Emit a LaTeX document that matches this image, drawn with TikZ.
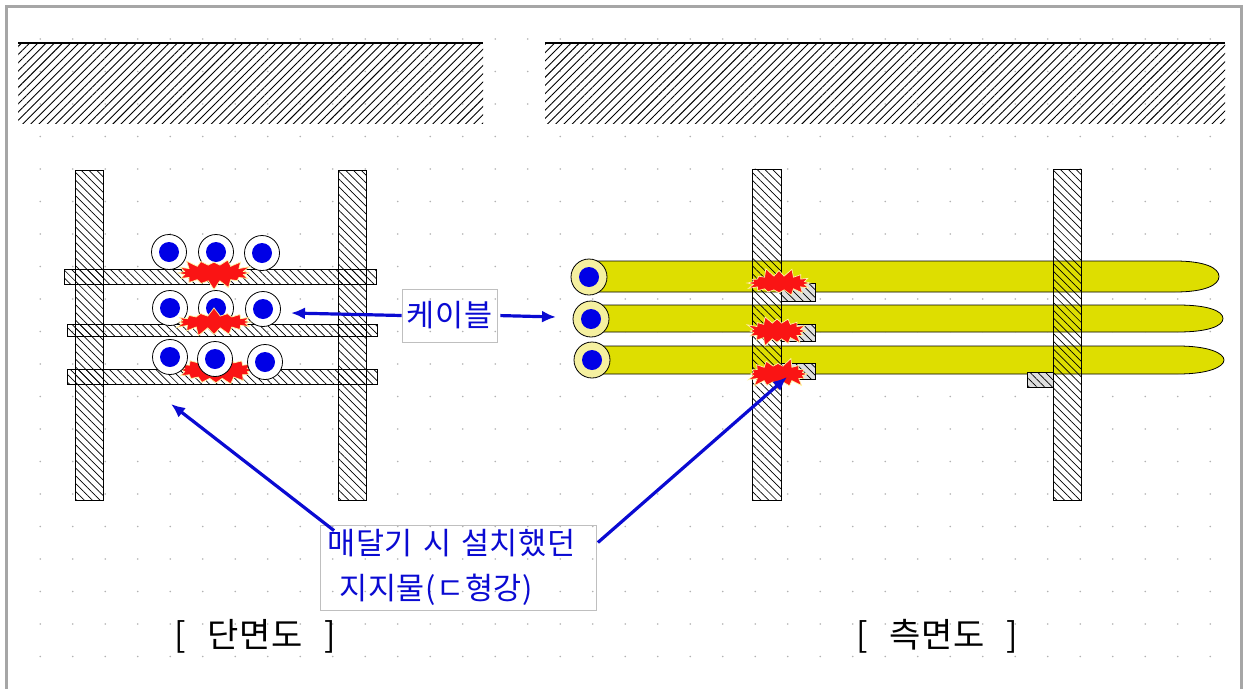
\documentclass[tikz,border=0pt]{standalone}
\usepackage{fontspec}
\newfontfamily\kr[LetterSpace=2,WordSpace=2.6]{Noto Sans CJK KR}
\usetikzlibrary{positioning,shapes,arrows.meta,patterns.meta}

\definecolor{cableblue}{RGB}{0,0,230}
\definecolor{callblue}{RGB}{10,10,210}
\definecolor{sheath}{RGB}{222,222,0}
\definecolor{sheathend}{RGB}{245,240,160}
\definecolor{burstred}{RGB}{250,20,20}

\tikzset{
  ground/.style={pattern={Lines[angle=45,distance=5.8pt,line width=0.9pt]}},
  barhatch/.style={pattern={Lines[angle=-45,distance=5.5pt,line width=0.7pt]}},
  vbar/.style={rectangle, draw, line width=0.8pt, inner sep=0pt, minimum width=28pt, minimum height=330pt, preaction={fill=white}, barhatch},
  barbase/.style={rectangle, fill=white, inner sep=0pt, minimum width=28pt, minimum height=330pt},
  hbar/.style={rectangle, draw, line width=0.8pt, inner sep=0pt, barhatch},
  cable/.style={circle, draw, line width=0.8pt, fill=white, minimum size=35pt, inner sep=0pt,
    path picture={\fill[cableblue] (path picture bounding box.center) circle (10pt);}},
  cableend/.style={cable, fill=sheathend, minimum size=36pt},
  spark/.style={starburst, fill=burstred, draw=yellow!35, line width=0.7pt, inner sep=0pt,
    starburst points=16, starburst point height=9pt},
  sheathline/.style={draw, line width=0.8pt, fill=sheath},
  bracket/.style={rectangle, draw, line width=0.8pt, inner sep=0pt, preaction={fill=gray!25}, barhatch},
  labelbox/.style={draw=gray!50, line width=0.8pt, text=callblue, inner sep=0pt, font=\kr\fontsize{30.5}{45}\selectfont},
  title/.style={font=\kr\fontsize{34}{40}\selectfont},
  callout/.style={->, draw=callblue, line width=3.2pt}
}

\begin{document}
\begin{tikzpicture}[x=1pt, y=-1pt, >={Latex[length=14pt,width=12pt]}]
\useasboundingbox (0,0) rectangle (1246,688);
\fill[white] (0,0) rectangle (1246,688);
\draw[gray!70, line width=3pt] (6.5,700) -- (6.5,6.5) -- (1241.5,6.5) -- (1241.5,700);

\foreach \i in {0,...,36}{
  \foreach \j in {0,...,19}{
    \fill[gray!60] (40.2+32.5*\i, 39+32.5*\j) circle (0.9pt);
  }
}

% ground above
\path[ground] (18,44) rectangle (483,123);
\draw[line width=1.4pt] (18,43) -- (483,43);
\path[ground] (545,44) rectangle (1225,123);
\draw[line width=1.4pt] (545,43) -- (1225,43);

% cross section
\node[vbar] (lbar1) at (89,335) {};
\node[vbar] (lbar2) at (352,335) {};
\node[hbar, minimum width=312pt, minimum height=15pt] (hb1) at (220,276.5) {};
\node[hbar, minimum width=310pt, minimum height=12pt] (hb2) at (222,330) {};
\node[hbar, minimum width=310pt, minimum height=15pt] (hb3) at (222,376.5) {};

\node[cable] (c11) at (169,252) {};
\node[cable] (c12) at (216,252) {};
\node[cable] (c13) at (262,253) {};
\node[cable] (c21) at (170,308) {};
\node[cable] (c22) at (216,308) {};
\node[cable] (c23) at (263,309) {};

\node[spark, minimum width=78pt, minimum height=34pt, random starburst=3] (s1) at (214,273) {};
\node[spark, minimum width=82pt, minimum height=30pt, random starburst=7] (s2) at (214,322) {};
\node[spark, minimum width=82pt, minimum height=35pt, random starburst=11] (s3) at (216,370) {};

\node[cable] (c31) at (170,357) {};
\node[cable] (c32) at (215,359) {};
\node[cable] (c33) at (265,362) {};

% side view
\node[barbase] (rbar1) at (767,335) {};
\node[barbase] (rbar2) at (1067.5,335) {};

\path[sheathline] (590,261) -- (1175,261) .. controls (1205,261) and (1219,268) .. (1219,276.5)
  .. controls (1219,285) and (1205,292) .. (1175,292) -- (590,292) -- cycle;
\path[sheathline] (590,305) -- (1178,305) .. controls (1208,305) and (1223,311) .. (1223,318.5)
  .. controls (1223,326) and (1208,332) .. (1178,332) -- (590,332) -- cycle;
\path[sheathline] (590,346) -- (1178,346) .. controls (1208,346) and (1224,353) .. (1224,360)
  .. controls (1224,367) and (1208,374) .. (1178,374) -- (590,374) -- cycle;

\node[cableend] (e1) at (589,277) {};
\node[cableend] (e2) at (591,319) {};
\node[cableend] (e3) at (592,360) {};

\draw[barhatch, line width=0.8pt] (rbar1.north west) rectangle (rbar1.south east);
\draw[barhatch, line width=0.8pt] (rbar2.north west) rectangle (rbar2.south east);

\node[bracket, minimum width=34pt, minimum height=18pt] (b1) at (798,292) {};
\node[bracket, minimum width=34pt, minimum height=17pt] (b2) at (798,332.5) {};
\node[bracket, minimum width=34pt, minimum height=16pt] (b3) at (798,371) {};
\node[bracket, minimum width=26pt, minimum height=15pt] (b4) at (1040,379.5) {};

\node[spark, minimum width=70pt, minimum height=32pt, random starburst=5] (r1) at (779,283) {};
\node[spark, minimum width=66pt, minimum height=34pt, random starburst=9] (r2) at (777,331) {};
\node[spark, minimum width=68pt, minimum height=34pt, random starburst=13] (r3) at (778,374) {};

% labels
\node[labelbox, minimum width=95pt, minimum height=53pt] (cablelbl) at (449.5,315.5) {케이블};
\node[labelbox, text width=262pt, inner xsep=7pt, minimum height=85pt, align=left] (support) at (458.5,567.5)
  {매달기 시 설치했던\\\hspace*{12pt}지지물(ㄷ형강)};

\coordinate (tipL) at (291,313);
\coordinate (tipR) at (556,317);
\coordinate (tipA) at (171,404);
\coordinate (tipB) at (787,377);
\draw[callout] (cablelbl.west) -- (tipL);
\draw[callout, shorten <=3pt] (cablelbl.east) -- (tipR);
\draw[callout] ([shift={(14,6)}]support.north west) -- (tipA);
\draw[callout] ([shift={(1,-25)}]support.east) -- (tipB);

\node[title] (sect) at (255.5,636) {[ 단면도 ]};
\node[title] (side) at (937,636) {[ 측면도 ]};
\end{tikzpicture}
\end{document}
